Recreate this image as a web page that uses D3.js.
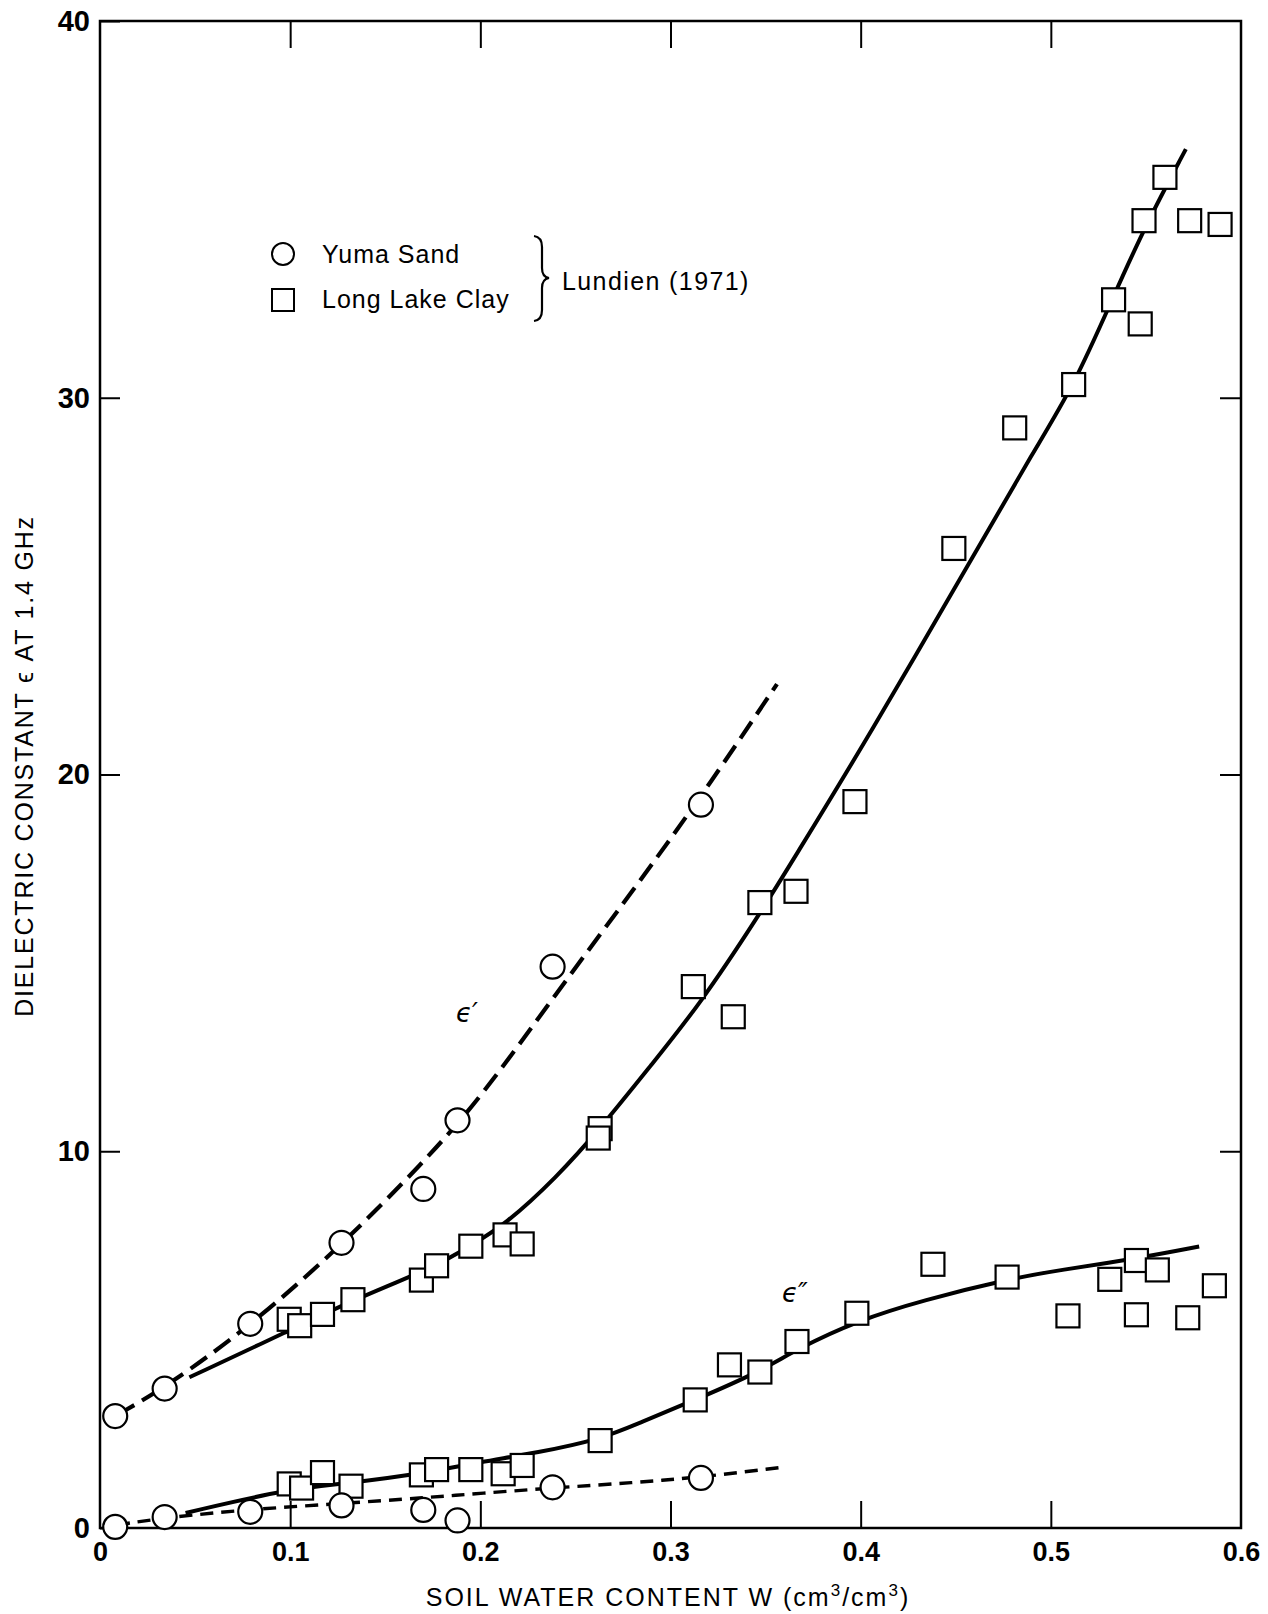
<!DOCTYPE html>
<meta charset="utf-8">
<script src="https://d3js.org/d3.v7.min.js"></script>
<style>
  body { margin: 0; background: #fff; }
  text { font-family: "Liberation Sans", Arial, sans-serif; fill: #000; }
  .tick text { font-weight: bold; }
</style>
<body>
<div id="chart"></div>
<script>
var sandW     = [0.008, 0.034, 0.079, 0.127, 0.170, 0.188, 0.238, 0.316];
var sandReal  = [2.97, 3.70, 5.42, 7.57, 9.00, 10.82, 14.90, 19.20];
var sandImag  = [0.03, 0.29, 0.43, 0.60, 0.48, 0.20, 1.08, 1.33];

var clayRealW = [0.0995, 0.105, 0.117, 0.133, 0.169, 0.177, 0.195, 0.213, 0.222, 0.263, 0.262,
                 0.312, 0.333, 0.347, 0.366, 0.397, 0.449, 0.481, 0.512, 0.533, 0.547, 0.549,
                 0.560, 0.573, 0.589];
var clayReal  = [5.54, 5.37, 5.67, 6.06, 6.58, 6.96, 7.48, 7.78, 7.54, 10.60, 10.35,
                 14.37, 13.57, 16.60, 16.90, 19.28, 26.00, 29.20, 30.35, 32.60, 31.96, 34.70,
                 35.85, 34.70, 34.60];

var clayImagW = [0.0995, 0.106, 0.117, 0.132, 0.169, 0.177, 0.195, 0.212, 0.222, 0.263, 0.313,
                 0.331, 0.347, 0.3665, 0.398, 0.438, 0.477, 0.509, 0.531, 0.545, 0.545, 0.556,
                 0.572, 0.586];
var clayImag  = [1.17, 1.06, 1.47, 1.11, 1.41, 1.55, 1.55, 1.44, 1.66, 2.32, 3.40,
                 4.33, 4.14, 4.95, 5.70, 7.00, 6.66, 5.63, 6.60, 7.10, 5.66, 6.85,
                 5.58, 6.43];

// hand-drawn fit curves
var fitSandRealW = [0.009, 0.035, 0.080, 0.127, 0.170, 0.200, 0.240, 0.280, 0.316, 0.356];
var fitSandReal  = [3.00, 3.75, 5.40, 7.50, 9.70, 11.40, 14.20, 16.90, 19.40, 22.40];
var fitSandImagW = [0.009, 0.035, 0.080, 0.127, 0.170, 0.200, 0.240, 0.280, 0.316, 0.357];
var fitSandImag  = [0.08, 0.28, 0.50, 0.65, 0.80, 0.92, 1.07, 1.20, 1.35, 1.60];
var fitClayRealW = [0.047, 0.100, 0.133, 0.177, 0.195, 0.213, 0.240, 0.263, 0.290, 0.3155,
                    0.347, 0.364, 0.403, 0.465, 0.490, 0.512, 0.533, 0.550, 0.571];
var fitClayReal  = [4.00, 5.25, 6.05, 6.95, 7.50, 8.05, 9.30, 10.60, 12.30, 13.90,
                    16.30, 17.70, 20.90, 26.30, 28.50, 30.30, 32.70, 34.60, 36.60];
var fitClayImagW = [0.045, 0.100, 0.133, 0.170, 0.200, 0.230, 0.263, 0.284, 0.313, 0.347,
                    0.3665, 0.398, 0.433, 0.477, 0.505, 0.545, 0.578];
var fitClayImag  = [0.40, 1.05, 1.20, 1.45, 1.75, 2.00, 2.35, 2.80, 3.40, 4.15,
                    4.75, 5.50, 6.05, 6.60, 6.85, 7.15, 7.47];

var xTicks = [0, 0.1, 0.2, 0.3, 0.4, 0.5, 0.6];
var yTicks = [0, 10, 20, 30, 40];

var W = 1268, H = 1614;
var svg = d3.select("#chart").append("svg")
  .attr("width", W).attr("height", H);

var x = d3.scaleLinear().domain([0, 0.6]).range([100, 1241]);
var y = d3.scaleLinear().domain([0, 40]).range([1528, 21]);

function pairs(xs, ys) { return xs.map(function(v, i) { return [v, ys[i]]; }); }

// axes (ticks point inward)
svg.append("g")
  .attr("transform", "translate(100,0)")
  .call(d3.axisLeft(y).tickValues(yTicks).tickSize(-20).tickPadding(10).tickFormat(d3.format("d")))
  .call(function(g) { g.select(".domain").remove(); g.selectAll("text").style("font-size", "29px"); });
svg.append("g")
  .attr("transform", "translate(1241,0)")
  .call(d3.axisRight(y).tickValues([10, 20, 30]).tickSize(-21).tickFormat(""))
  .call(function(g) { g.select(".domain").remove(); });
svg.append("g")
  .attr("transform", "translate(0,1528)")
  .call(d3.axisBottom(x).tickValues(xTicks).tickSize(-27).tickPadding(14)
        .tickFormat(function(d) { return d === 0 ? "0" : d3.format(".1f")(d); }))
  .call(function(g) {
    g.select(".domain").remove();
    g.selectAll("text").style("font-size", "27px");
    g.selectAll(".tick").filter(function(d) { return d === 0 || d === 0.6; }).select("line").remove();
  });
svg.append("g")
  .attr("transform", "translate(0,21)")
  .call(d3.axisTop(x).tickValues([0.1, 0.2, 0.3, 0.4, 0.5]).tickSize(-27).tickFormat(""))
  .call(function(g) { g.select(".domain").remove(); });
svg.selectAll(".tick line").attr("stroke", "#000").attr("stroke-width", 2);

// frame
svg.append("rect")
  .attr("x", 100).attr("y", 21).attr("width", 1141).attr("height", 1507)
  .attr("fill", "none").attr("stroke", "#000").attr("stroke-width", 2.5);

// axis titles
svg.append("text")
  .attr("transform", "translate(33,766) rotate(-90)")
  .attr("text-anchor", "middle")
  .style("font-size", "25px").style("letter-spacing", "1.8px")
  .text("DIELECTRIC CONSTANT \u03f5 AT 1.4 GHz");

var xt = svg.append("text")
  .attr("x", 668).attr("y", 1606)
  .attr("text-anchor", "middle")
  .style("font-size", "25px").style("letter-spacing", "2px");
xt.append("tspan").text("SOIL WATER CONTENT W (cm");
xt.append("tspan").attr("dy", -10).style("font-size", "17px").text("3");
xt.append("tspan").attr("dy", 10).text("/cm");
xt.append("tspan").attr("dy", -10).style("font-size", "17px").text("3");
xt.append("tspan").attr("dy", 10).text(")");

// fit curves
var line = d3.line()
  .x(function(d) { return x(d[0]); })
  .y(function(d) { return y(d[1]); })
  .curve(d3.curveBasis);

var curves = [
  {pts: pairs(fitSandRealW, fitSandReal), dash: "20,9", w: 4.2},
  {pts: pairs(fitSandImagW, fitSandImag), dash: "13,8", w: 3.4},
  {pts: pairs(fitClayRealW, fitClayReal), dash: null, w: 4},
  {pts: pairs(fitClayImagW, fitClayImag), dash: null, w: 4}
];
curves.forEach(function(c) {
  svg.append("path")
    .attr("d", line(c.pts))
    .attr("fill", "none")
    .attr("stroke", "#000")
    .attr("stroke-width", c.w)
    .attr("stroke-dasharray", c.dash);
});

// markers
var sq = 23;
[pairs(clayRealW, clayReal), pairs(clayImagW, clayImag)].forEach(function(data) {
  svg.append("g").selectAll("rect")
    .data(data).enter().append("rect")
    .attr("x", function(d) { return x(d[0]) - sq / 2; })
    .attr("y", function(d) { return y(d[1]) - sq / 2; })
    .attr("width", sq).attr("height", sq)
    .attr("fill", "#fff").attr("stroke", "#000").attr("stroke-width", 2.2);
});
[pairs(sandW, sandReal), pairs(sandW, sandImag)].forEach(function(data) {
  svg.append("g").selectAll("circle")
    .data(data).enter().append("circle")
    .attr("cx", function(d) { return x(d[0]); })
    .attr("cy", function(d) { return y(d[1]); })
    .attr("r", 12)
    .attr("fill", "#fff").attr("stroke", "#000").attr("stroke-width", 2.2);
});

// curve labels
svg.append("text").attr("x", 456).attr("y", 1022)
  .style("font-size", "26px").style("font-style", "italic")
  .style("font-family", "DejaVu Sans, sans-serif").text("\u03f5\u2032");
svg.append("text").attr("x", 782).attr("y", 1302)
  .style("font-size", "26px").style("font-style", "italic")
  .style("font-family", "DejaVu Sans, sans-serif").text("\u03f5\u2033");

// legend
var leg = svg.append("g");
leg.append("circle").attr("cx", 283).attr("cy", 254).attr("r", 11)
  .attr("fill", "#fff").attr("stroke", "#000").attr("stroke-width", 2);
leg.append("rect").attr("x", 272).attr("y", 289).attr("width", 22).attr("height", 22)
  .attr("fill", "#fff").attr("stroke", "#000").attr("stroke-width", 2);
leg.append("text").attr("x", 322).attr("y", 263)
  .style("font-size", "25px").style("letter-spacing", "1px").text("Yuma Sand");
leg.append("text").attr("x", 322).attr("y", 308)
  .style("font-size", "25px").style("letter-spacing", "1px").text("Long Lake Clay");
leg.append("path")
  .attr("d", "M534,236 Q542,237 542,247 L542,268 Q542,277 549,278 Q542,279 542,288 L542,310 Q542,320 534,321")
  .attr("fill", "none").attr("stroke", "#000").attr("stroke-width", 2.2);
leg.append("text").attr("x", 562).attr("y", 290)
  .style("font-size", "25px").style("letter-spacing", "1.4px").text("Lundien (1971)");
</script>
</body>
